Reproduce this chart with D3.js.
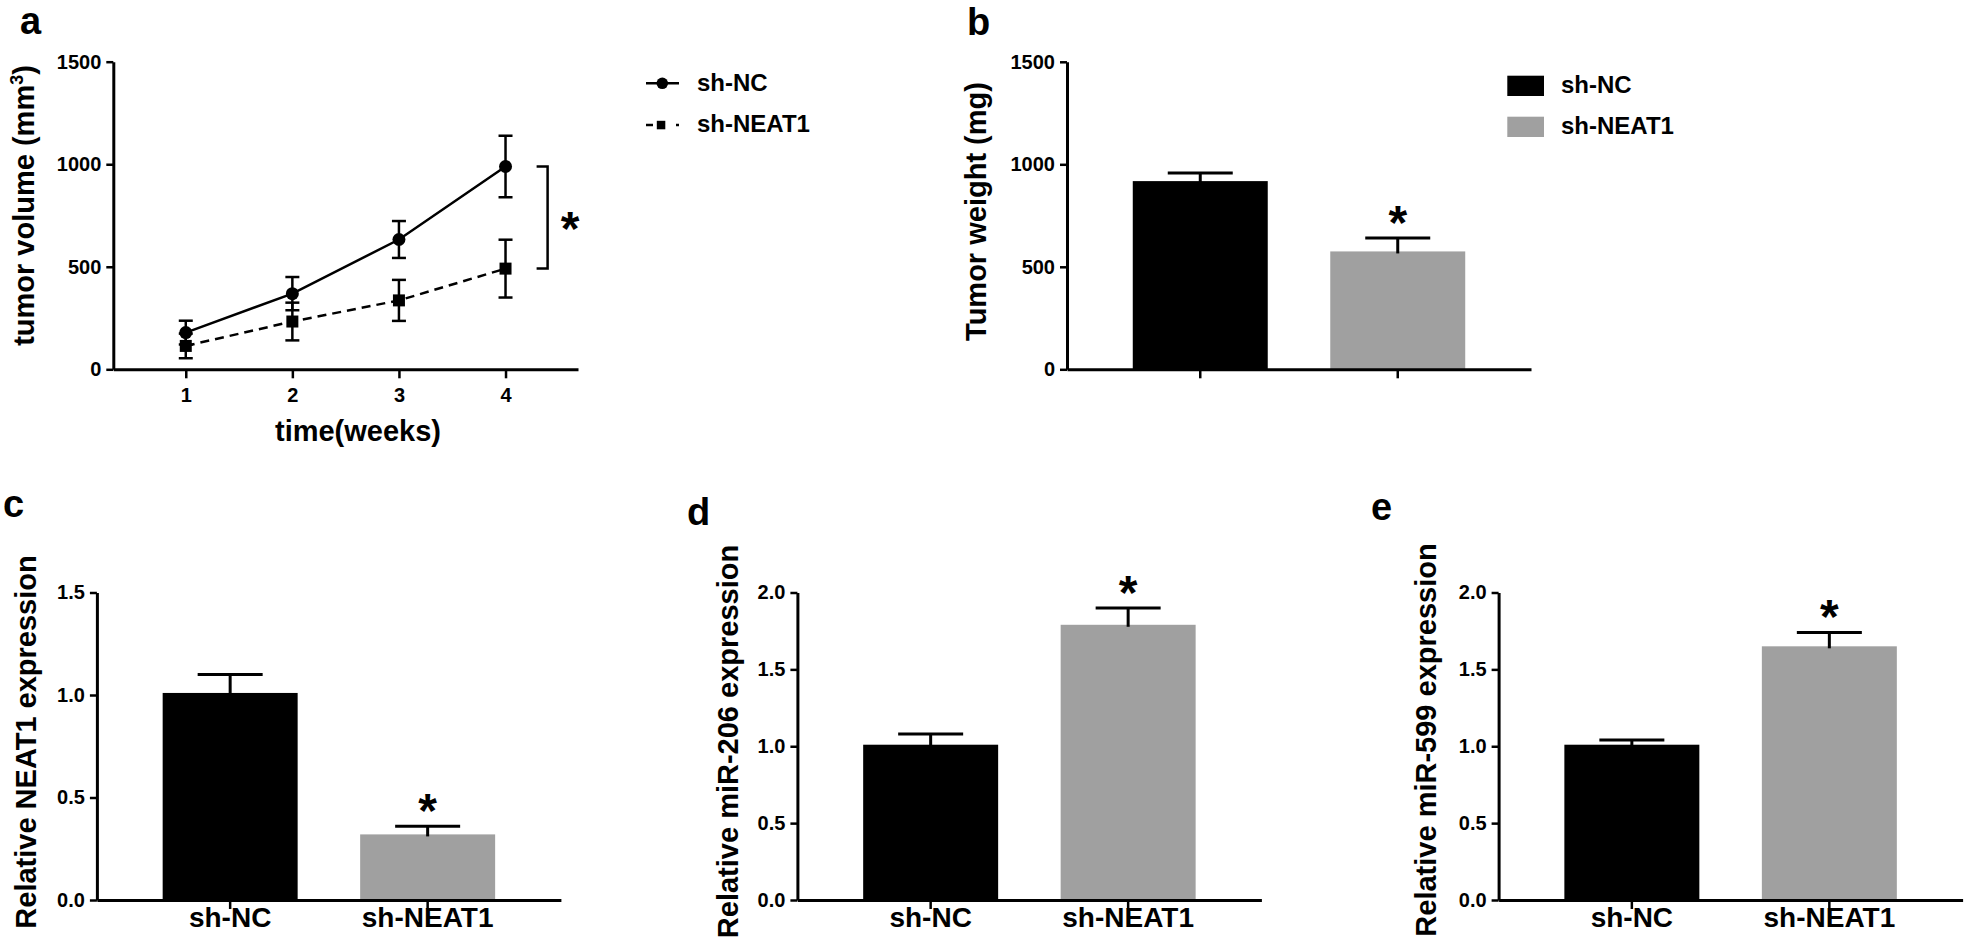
<!DOCTYPE html>
<html><head><meta charset="utf-8">
<script src="https://cdn.jsdelivr.net/npm/d3@7"></script>
<style>
html,body{margin:0;padding:0;background:#fff;}
svg text{font-family:"Liberation Sans",Arial,sans-serif;font-weight:bold;fill:#000;}
</style></head>
<body>
<svg id="chart" width="1964" height="946"></svg>
<script>
// ---------- data ----------
const weeks = [1, 2, 3, 4];
const volumeNC = [179, 369, 633, 989];
const volumeNCErr = [58, 81, 90, 150];
const volumeNEAT1 = [114, 233, 336, 491];
const volumeNEAT1Err = [60, 92, 100, 141];
const groups = ["sh-NC", "sh-NEAT1"];
const weightMean = [918, 575];
const weightErr = [40, 65];
const neat1Expr = [1.01, 0.32];
const neat1Err = [0.09, 0.04];
const mir206Expr = [1.01, 1.79];
const mir206Err = [0.07, 0.11];
const mir599Expr = [1.01, 1.65];
const mir599Err = [0.03, 0.09];
const volumeTicks = [0, 500, 1000, 1500];
const weightTicks = [0, 500, 1000, 1500];
const neat1Ticks = [0, 0.5, 1.0, 1.5];
const mirTicks = [0, 0.5, 1.0, 1.5, 2.0];
const significant = [false, true];

const svg = d3.select("#chart");
const colors = ["#000000", "#a0a0a0"];
const AX = 3, TK = 2.5;

function styleAxis(g, fs) {
  g.attr("font-family", null).attr("font-size", null);
  g.select(".domain").attr("stroke-width", AX).attr("stroke", "#000");
  g.selectAll(".tick line").attr("stroke-width", TK).attr("stroke", "#000");
  g.selectAll(".tick text").style("font-size", fs + "px");
}

function panelLetter(t, x, y) {
  svg.append("text").attr("x", x).attr("y", y).style("font-size", "38px").text(t);
}

function yTitle(x, y, txt) {
  return svg.append("text").attr("transform", `translate(${x},${y}) rotate(-90)`)
    .attr("text-anchor", "middle").attr("dy", "0.35em").style("font-size", "29px").text(txt);
}

// ---------- panel a ----------
{
  const x = d3.scaleLinear().domain([0.32, 4.68]).range([113.3, 578]);
  const y = d3.scaleLinear().domain([0, 1500]).range([369.3, 61.7]);
  const gy = svg.append("g").attr("transform", `translate(${x.range()[0]},0)`)
    .call(d3.axisLeft(y).tickValues(volumeTicks).tickFormat(d3.format("d")).tickSize(7).tickPadding(5).tickSizeOuter(0));
  styleAxis(gy, 20);
  const gx = svg.append("g").attr("transform", `translate(0,${y(0)})`)
    .call(d3.axisBottom(x).tickValues(weeks).tickFormat(d3.format("d")).tickSize(9).tickPadding(10).tickSizeOuter(0));
  styleAxis(gx, 20);

  const series = [
    {v: volumeNC, e: volumeNCErr, dash: null, shape: "circle"},
    {v: volumeNEAT1, e: volumeNEAT1Err, dash: "9,6", shape: "square"}
  ];
  const line = d3.line().x((d, i) => x(weeks[i])).y(d => y(d));
  series.forEach(s => {
    const eg = svg.append("g").attr("stroke", "#000").attr("stroke-width", 2.5);
    s.v.forEach((m, i) => {
      const cx = x(weeks[i]);
      eg.append("line").attr("x1", cx).attr("x2", cx).attr("y1", y(m - s.e[i])).attr("y2", y(m + s.e[i]));
      eg.append("line").attr("x1", cx - 7).attr("x2", cx + 7).attr("y1", y(m - s.e[i])).attr("y2", y(m - s.e[i]));
      eg.append("line").attr("x1", cx - 7).attr("x2", cx + 7).attr("y1", y(m + s.e[i])).attr("y2", y(m + s.e[i]));
    });
  });
  series.forEach(s => {
    svg.append("path").attr("d", line(s.v)).attr("fill", "none").attr("stroke", "#000")
      .attr("stroke-width", 2.5).attr("stroke-dasharray", s.dash);
    s.v.forEach((m, i) => {
      if (s.shape === "circle")
        svg.append("circle").attr("cx", x(weeks[i])).attr("cy", y(m)).attr("r", 6.5);
      else
        svg.append("rect").attr("x", x(weeks[i]) - 6).attr("y", y(m) - 6).attr("width", 12).attr("height", 12);
    });
  });
  // significance bracket
  const bx = 547.6;
  svg.append("path").attr("fill", "none").attr("stroke", "#000").attr("stroke-width", 2.5)
    .attr("d", `M${bx - 11},${y(volumeNC[3])}H${bx}V${y(volumeNEAT1[3])}H${bx - 11}`);
  svg.append("text").attr("x", 570).attr("y", (y(volumeNC[3]) + y(volumeNEAT1[3])) / 2 + 27)
    .attr("text-anchor", "middle").style("font-size", "48px").text("*");

  const yt = svg.append("text").attr("transform", `translate(24,205.5) rotate(-90)`)
    .attr("text-anchor", "middle").attr("dy", "0.35em").style("font-size", "29px");
  yt.append("tspan").text("tumor volume (mm");
  yt.append("tspan").attr("dy", -11).style("font-size", "18px").text("3");
  yt.append("tspan").attr("dy", 11).text(")");
  svg.append("text").attr("x", 358).attr("y", 441).attr("text-anchor", "middle")
    .style("font-size", "29px").text("time(weeks)");

  // legend
  const lg = svg.append("g");
  lg.append("line").attr("x1", 646).attr("x2", 679).attr("y1", 83.3).attr("y2", 83.3).attr("stroke", "#000").attr("stroke-width", 2.5);
  lg.append("circle").attr("cx", 662.3).attr("cy", 83.3).attr("r", 5.8);
  lg.append("line").attr("x1", 646).attr("x2", 653).attr("y1", 125).attr("y2", 125).attr("stroke", "#000").attr("stroke-width", 2.5);
  lg.append("rect").attr("x", 656.8).attr("y", 120.8).attr("width", 8.5).attr("height", 8.5);
  lg.append("line").attr("x1", 676).attr("x2", 679).attr("y1", 125).attr("y2", 125).attr("stroke", "#000").attr("stroke-width", 2.5);
  lg.append("text").attr("x", 697).attr("y", 90.7).style("font-size", "24px").text(groups[0]);
  lg.append("text").attr("x", 697).attr("y", 131.7).style("font-size", "24px").text(groups[1]);
  panelLetter("a", 20, 34);
}

// ---------- bar panel helper ----------
function barPanel(opt) {
  const x = d3.scaleBand().domain(groups).range([opt.x0, opt.x0 + 464]).paddingInner(0.3165).paddingOuter(0.333);
  const y = d3.scaleLinear().domain([0, opt.max]).range([opt.y0, opt.y0 - 307.5]);
  svg.append("g").selectAll("rect").data(groups).join("rect")
    .attr("x", d => x(d)).attr("width", x.bandwidth())
    .attr("y", (d, i) => y(opt.mean[i])).attr("height", (d, i) => y(0) - y(opt.mean[i]))
    .attr("fill", (d, i) => colors[i]);
  const eg = svg.append("g").attr("stroke", "#000").attr("stroke-width", 3);
  groups.forEach((g, i) => {
    const cx = x(g) + x.bandwidth() / 2;
    eg.append("line").attr("x1", cx).attr("x2", cx).attr("y1", y(opt.mean[i]) + 2).attr("y2", y(opt.mean[i] + opt.err[i]));
    eg.append("line").attr("x1", cx - 32.5).attr("x2", cx + 32.5)
      .attr("y1", y(opt.mean[i] + opt.err[i])).attr("y2", y(opt.mean[i] + opt.err[i]));
    if (significant[i])
      svg.append("text").attr("x", cx).attr("y", y(opt.mean[i] + opt.err[i]) - 26 + 27)
        .attr("text-anchor", "middle").style("font-size", "48px").text("*");
  });
  const gy = svg.append("g").attr("transform", `translate(${opt.x0},0)`)
    .call(d3.axisLeft(y).tickValues(opt.ticks).tickFormat(opt.fmt).tickSize(7).tickPadding(5).tickSizeOuter(0));
  styleAxis(gy, 20);
  const gx = svg.append("g").attr("transform", `translate(0,${opt.y0})`)
    .call(d3.axisBottom(x).tickSize(9).tickSizeOuter(0).tickFormat(opt.labels ? (d => d) : () => ""));
  styleAxis(gx, 28);
  gx.selectAll(".tick text").attr("y", 27).attr("dy", 0);
  yTitle(opt.tx, opt.ty, opt.title);
}

barPanel({x0: 1067, y0: 369.3, max: 1500, mean: weightMean, err: weightErr, ticks: weightTicks,
  fmt: d3.format("d"), labels: false, tx: 976, ty: 211.5, title: "Tumor weight (mg)"});
panelLetter("b", 967, 35);
// legend b
groups.forEach((g, i) => {
  svg.append("rect").attr("x", 1507.3).attr("y", 75.7 + i * 41).attr("width", 36.7).attr("height", 20.3).attr("fill", colors[i]);
  svg.append("text").attr("x", 1561).attr("y", 93.3 + i * 41).style("font-size", "24px").text(g);
});

barPanel({x0: 96.9, y0: 900, max: 1.5, mean: neat1Expr, err: neat1Err, ticks: neat1Ticks,
  fmt: d3.format(".1f"), labels: true, tx: 26, ty: 742, title: "Relative NEAT1 expression"});
panelLetter("c", 3, 517);

barPanel({x0: 797.4, y0: 900, max: 2.0, mean: mir206Expr, err: mir206Err, ticks: mirTicks,
  fmt: d3.format(".1f"), labels: true, tx: 728, ty: 741.5, title: "Relative miR-206 expression"});
panelLetter("d", 687, 525);

barPanel({x0: 1498.6, y0: 900, max: 2.0, mean: mir599Expr, err: mir599Err, ticks: mirTicks,
  fmt: d3.format(".1f"), labels: true, tx: 1425.5, ty: 740, title: "Relative miR-599 expression"});
panelLetter("e", 1371, 520);
</script>
</body></html>
